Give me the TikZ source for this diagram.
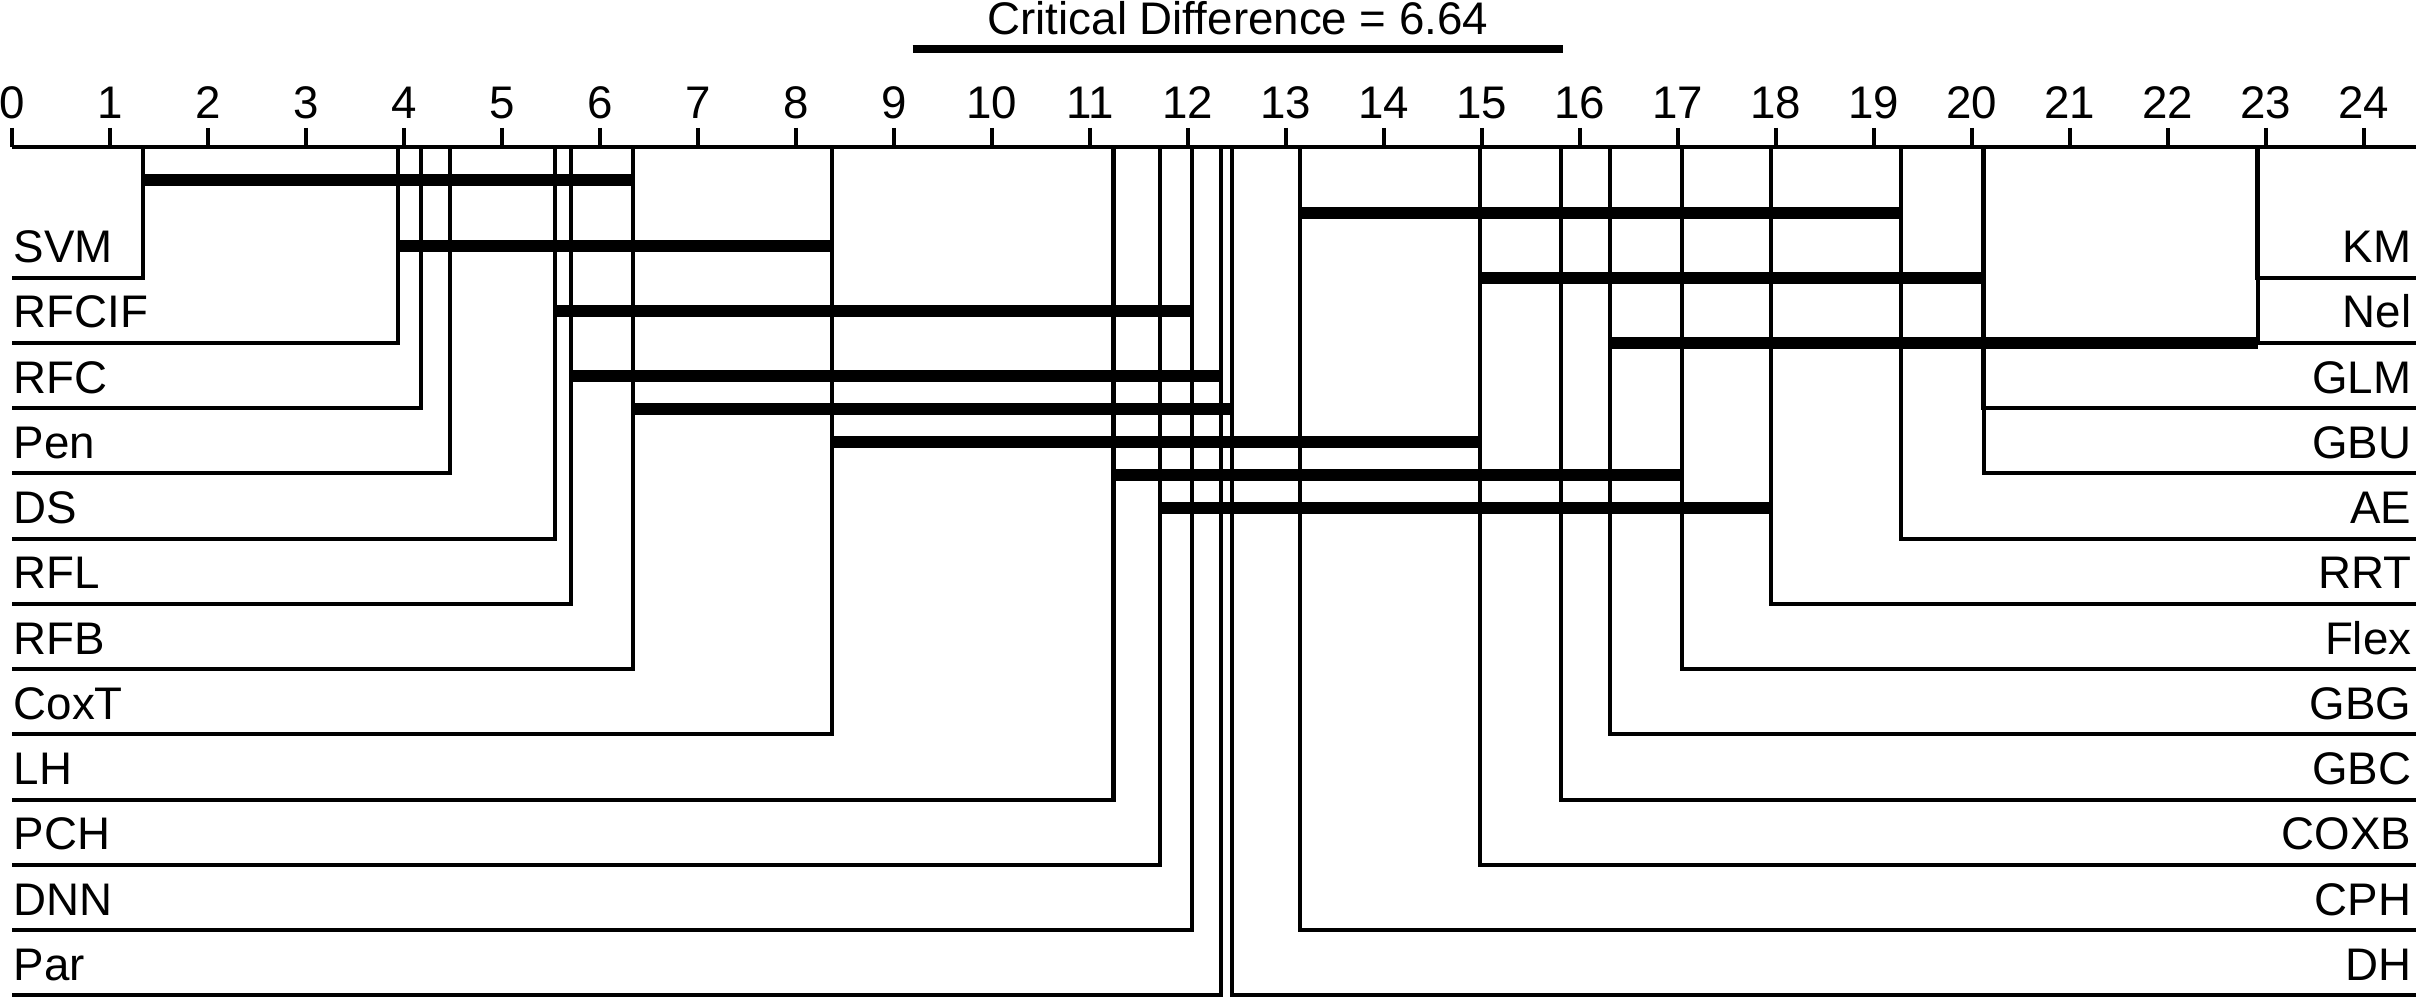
\documentclass[tikz,border=0pt]{standalone}
\usepackage{fontspec}
\setmainfont{Liberation Sans}
\tikzset{
  axisline/.style={line width=1.35pt},
  tickline/.style={line width=1.1pt},
  rowline/.style={line width=1.15pt},
  cliquebar/.style={line width=3.4pt},
  cdbar/.style={line width=2.4pt},
  txt/.style={inner sep=0pt,font=\fontsize{13}{15}\selectfont},
  leftlbl/.style={txt,anchor=base west},
  rightlbl/.style={txt,anchor=base east},
}
\begin{document}
\begin{tikzpicture}[x=0.98cm,y=-0.01cm]
\useasboundingbox (-0.1224,0) rectangle (24.531,1000);
% critical difference
\node[txt,anchor=base] (cdtitle) at (12.51,34.3) {Critical Difference = 6.64};
\coordinate (cdA) at (9.19,49.3);
\coordinate (cdB) at (15.83,49.3);
\draw[cdbar] (cdA) -- (cdB);
% axis
\coordinate (ax0) at (0,147);
\coordinate (ax1) at (24.531,147);
\draw[axisline] (ax0) -- (ax1);
\foreach \i in {0,...,24} {
  \draw[tickline] (\i,128) -- (\i,147);
  \node[txt,anchor=base] (t\i) at (\i,119) {\i};
}
% left side
\coordinate (SVM) at (1.34,147);   \coordinate (SVMe) at (0,277.7);
\coordinate (RFCIF) at (3.94,147); \coordinate (RFCIFe) at (0,343.0);
\coordinate (RFC) at (4.17,147);   \coordinate (RFCe) at (0,408.3);
\coordinate (Pen) at (4.47,147);   \coordinate (Pene) at (0,473.6);
\coordinate (DS) at (5.54,147);    \coordinate (DSe) at (0,538.9);
\coordinate (RFL) at (5.70,147);   \coordinate (RFLe) at (0,604.2);
\coordinate (RFB) at (6.34,147);   \coordinate (RFBe) at (0,669.5);
\coordinate (CoxT) at (8.37,147);  \coordinate (CoxTe) at (0,734.8);
\coordinate (LH) at (11.24,147);   \coordinate (LHe) at (0,800.1);
\coordinate (PCH) at (11.71,147);  \coordinate (PCHe) at (0,865.4);
\coordinate (DNN) at (12.04,147);  \coordinate (DNNe) at (0,930.7);
\coordinate (Par) at (12.34,147);  \coordinate (Pare) at (0,996.0);
\draw[rowline] (SVM) |- (SVMe);
\draw[rowline] (RFCIF) |- (RFCIFe);
\draw[rowline] (RFC) |- (RFCe);
\draw[rowline] (Pen) |- (Pene);
\draw[rowline] (DS) |- (DSe);
\draw[rowline] (RFL) |- (RFLe);
\draw[rowline] (RFB) |- (RFBe);
\draw[rowline] (CoxT) |- (CoxTe);
\draw[rowline] (LH) |- (LHe);
\draw[rowline] (PCH) |- (PCHe);
\draw[rowline] (DNN) |- (DNNe);
\draw[rowline] (Par) |- (Pare);
\node[leftlbl] (SVMl) at ([xshift=0.01cm,yshift=0.15cm]SVMe) {SVM};
\node[leftlbl] (RFCIFl) at ([xshift=0.01cm,yshift=0.15cm]RFCIFe) {RFCIF};
\node[leftlbl] (RFCl) at ([xshift=0.01cm,yshift=0.15cm]RFCe) {RFC};
\node[leftlbl] (Penl) at ([xshift=0.01cm,yshift=0.15cm]Pene) {Pen};
\node[leftlbl] (DSl) at ([xshift=0.01cm,yshift=0.15cm]DSe) {DS};
\node[leftlbl] (RFLl) at ([xshift=0.01cm,yshift=0.15cm]RFLe) {RFL};
\node[leftlbl] (RFBl) at ([xshift=0.01cm,yshift=0.15cm]RFBe) {RFB};
\node[leftlbl] (CoxTl) at ([xshift=0.01cm,yshift=0.15cm]CoxTe) {CoxT};
\node[leftlbl] (LHl) at ([xshift=0.01cm,yshift=0.15cm]LHe) {LH};
\node[leftlbl] (PCHl) at ([xshift=0.01cm,yshift=0.15cm]PCHe) {PCH};
\node[leftlbl] (DNNl) at ([xshift=0.01cm,yshift=0.15cm]DNNe) {DNN};
\node[leftlbl] (Parl) at ([xshift=0.01cm,yshift=0.15cm]Pare) {Par};
% right side
\coordinate (KM) at (22.91,147);   \coordinate (KMe) at (24.531,277.7);
\coordinate (Nel) at (22.92,147);  \coordinate (Nele) at (24.531,343.0);
\coordinate (GLM) at (20.11,147);  \coordinate (GLMe) at (24.531,408.3);
\coordinate (GBU) at (20.12,147);  \coordinate (GBUe) at (24.531,473.6);
\coordinate (AE) at (19.28,147);   \coordinate (AEe) at (24.531,538.9);
\coordinate (RRT) at (17.95,147);  \coordinate (RRTe) at (24.531,604.2);
\coordinate (Flex) at (17.04,147); \coordinate (Flexe) at (24.531,669.5);
\coordinate (GBG) at (16.31,147);  \coordinate (GBGe) at (24.531,734.8);
\coordinate (GBC) at (15.81,147);  \coordinate (GBCe) at (24.531,800.1);
\coordinate (COXB) at (14.98,147); \coordinate (COXBe) at (24.531,865.4);
\coordinate (CPH) at (13.14,147);  \coordinate (CPHe) at (24.531,930.7);
\coordinate (DH) at (12.45,147);   \coordinate (DHe) at (24.531,996.0);
\draw[rowline] (KM) |- (KMe);
\draw[rowline] (Nel) |- (Nele);
\draw[rowline] (GLM) |- (GLMe);
\draw[rowline] (GBU) |- (GBUe);
\draw[rowline] (AE) |- (AEe);
\draw[rowline] (RRT) |- (RRTe);
\draw[rowline] (Flex) |- (Flexe);
\draw[rowline] (GBG) |- (GBGe);
\draw[rowline] (GBC) |- (GBCe);
\draw[rowline] (COXB) |- (COXBe);
\draw[rowline] (CPH) |- (CPHe);
\draw[rowline] (DH) |- (DHe);
\node[rightlbl] (KMl) at ([xshift=-0.04cm,yshift=0.15cm]KMe) {KM};
\node[rightlbl] (Nell) at ([xshift=-0.04cm,yshift=0.15cm]Nele) {Nel};
\node[rightlbl] (GLMl) at ([xshift=-0.04cm,yshift=0.15cm]GLMe) {GLM};
\node[rightlbl] (GBUl) at ([xshift=-0.04cm,yshift=0.15cm]GBUe) {GBU};
\node[rightlbl] (AEl) at ([xshift=-0.04cm,yshift=0.15cm]AEe) {AE};
\node[rightlbl] (RRTl) at ([xshift=-0.04cm,yshift=0.15cm]RRTe) {RRT};
\node[rightlbl] (Flexl) at ([xshift=-0.04cm,yshift=0.15cm]Flexe) {Flex};
\node[rightlbl] (GBGl) at ([xshift=-0.04cm,yshift=0.15cm]GBGe) {GBG};
\node[rightlbl] (GBCl) at ([xshift=-0.04cm,yshift=0.15cm]GBCe) {GBC};
\node[rightlbl] (COXBl) at ([xshift=-0.04cm,yshift=0.15cm]COXBe) {COXB};
\node[rightlbl] (CPHl) at ([xshift=-0.04cm,yshift=0.15cm]CPHe) {CPH};
\node[rightlbl] (DHl) at ([xshift=-0.04cm,yshift=0.15cm]DHe) {DH};
% cliques
\draw[cliquebar] (SVM |- 0,180) -- (RFB |- 0,180);
\draw[cliquebar] (RFCIF |- 0,245.7) -- (CoxT |- 0,245.7);
\draw[cliquebar] (DS |- 0,311) -- (DNN |- 0,311);
\draw[cliquebar] (RFL |- 0,376) -- (Par |- 0,376);
\draw[cliquebar] (RFB |- 0,409) -- (DH |- 0,409);
\draw[cliquebar] (CoxT |- 0,442) -- (COXB |- 0,442);
\draw[cliquebar] (LH |- 0,475) -- (Flex |- 0,475);
\draw[cliquebar] (PCH |- 0,508) -- (RRT |- 0,508);
\draw[cliquebar] (CPH |- 0,212.7) -- (AE |- 0,212.7);
\draw[cliquebar] (COXB |- 0,278.3) -- (GBU |- 0,278.3);
\draw[cliquebar] (GBG |- 0,343.3) -- (Nel |- 0,343.3);
\end{tikzpicture}
\end{document}
